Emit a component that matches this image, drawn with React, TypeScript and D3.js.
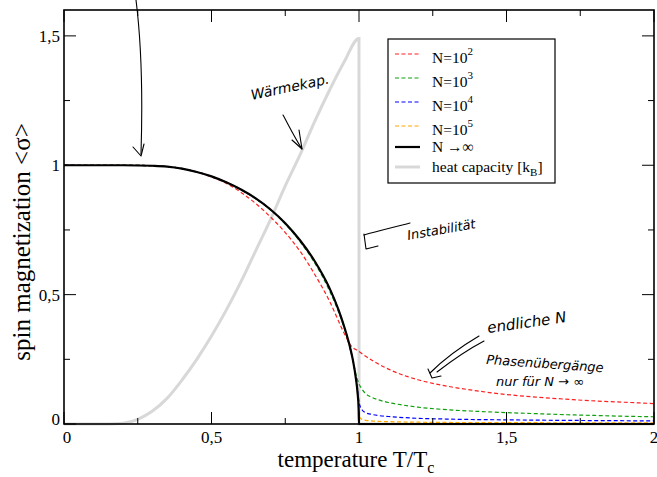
import React from "react";
import * as d3 from "d3";

// ---- data ----
const tInf = [0, 0.1, 0.2, 0.3, 0.35, 0.4, 0.45, 0.5, 0.55, 0.6, 0.65, 0.7, 0.75, 0.8, 0.85, 0.9, 0.93, 0.95, 0.97, 0.98, 0.99, 0.995, 0.999, 1.0, 1.5, 2.0];
const mInf = [1, 1, 1, 0.998, 0.995, 0.987, 0.974, 0.957, 0.934, 0.906, 0.872, 0.829, 0.776, 0.71, 0.629, 0.525, 0.443, 0.376, 0.295, 0.243, 0.172, 0.122, 0.055, 0, 0, 0];

const tN2 = [0, 0.2, 0.3, 0.4, 0.5, 0.55, 0.6, 0.65, 0.7, 0.75, 0.8, 0.85, 0.9, 0.95, 0.97, 1.0, 1.05, 1.1, 1.2, 1.3, 1.4, 1.5, 1.6, 1.7, 1.8, 1.9, 2.0];
const mN2 = [1, 1, 0.998, 0.987, 0.955, 0.93, 0.895, 0.852, 0.8, 0.74, 0.668, 0.578, 0.475, 0.35, 0.307, 0.28, 0.242, 0.212, 0.171, 0.146, 0.128, 0.114, 0.104, 0.096, 0.089, 0.084, 0.079];

const tN3 = [0, 0.2, 0.3, 0.4, 0.5, 0.6, 0.7, 0.75, 0.8, 0.85, 0.9, 0.93, 0.95, 0.97, 0.98, 0.99, 1.0, 1.01, 1.02, 1.04, 1.07, 1.1, 1.15, 1.2, 1.3, 1.4, 1.5, 1.6, 1.7, 1.8, 1.9, 2.0];
const mN3 = [1, 1, 0.998, 0.987, 0.957, 0.905, 0.827, 0.773, 0.705, 0.622, 0.515, 0.435, 0.37, 0.29, 0.245, 0.19, 0.155, 0.135, 0.12, 0.105, 0.092, 0.083, 0.073, 0.065, 0.055, 0.049, 0.044, 0.04, 0.036, 0.033, 0.03, 0.028];

const tN4 = [0, 0.2, 0.3, 0.4, 0.5, 0.6, 0.7, 0.8, 0.85, 0.9, 0.95, 0.97, 0.98, 0.99, 0.995, 1.0, 1.005, 1.01, 1.02, 1.04, 1.07, 1.1, 1.2, 1.3, 1.5, 1.7, 2.0];
const mN4 = [1, 1, 0.998, 0.987, 0.957, 0.906, 0.829, 0.709, 0.628, 0.523, 0.374, 0.293, 0.241, 0.172, 0.13, 0.085, 0.065, 0.055, 0.045, 0.038, 0.032, 0.029, 0.022, 0.019, 0.016, 0.014, 0.012];

const tN5 = [0, 0.2, 0.3, 0.4, 0.5, 0.6, 0.7, 0.8, 0.85, 0.9, 0.95, 0.97, 0.98, 0.99, 0.995, 0.999, 1.0, 1.005, 1.01, 1.03, 1.07, 1.1, 1.3, 1.6, 2.0];
const mN5 = [1, 1, 0.998, 0.987, 0.957, 0.906, 0.829, 0.71, 0.629, 0.525, 0.376, 0.295, 0.243, 0.172, 0.122, 0.06, 0.035, 0.022, 0.018, 0.013, 0.01, 0.009, 0.006, 0.005, 0.004];

const tC = [0, 0.15, 0.2, 0.25, 0.3, 0.35, 0.4, 0.45, 0.5, 0.55, 0.6, 0.65, 0.7, 0.75, 0.8, 0.85, 0.9, 0.95, 1.0, 1.0001, 2.0];
const cHeat = [0, 0, 0.003, 0.018, 0.05, 0.1, 0.17, 0.25, 0.34, 0.44, 0.55, 0.67, 0.79, 0.92, 1.04, 1.17, 1.29, 1.4, 1.49, 0, 0];

const xTicksMajor = [0, 0.5, 1, 1.5, 2];
const xTickLabels = ["0", "0,5", "1", "1,5", "2"];
const yTicksMajor = [0, 0.5, 1, 1.5];
const yTickLabels = ["0", "0,5", "1", "1,5"];
const minorTicks = [0.25, 0.75, 1.25, 1.75];

const legendItems = [
  { label: "N=10", sup: "2", color: "#ff2020", dash: "4,2.5", width: 1.2 },
  { label: "N=10", sup: "3", color: "#10a010", dash: "4,2.5", width: 1.2 },
  { label: "N=10", sup: "4", color: "#0000ff", dash: "4,2.5", width: 1.2 },
  { label: "N=10", sup: "5", color: "#ffa500", dash: "4,2.5", width: 1.2 },
  { label: "N  \u2192\u221e", sup: "", color: "#000000", dash: "", width: 2.2 },
  { label: "heat capacity [k", sup: "", sub: "B", tail: "]", color: "#d8d8d8", dash: "", width: 3 },
];

const W = 657;
const H = 477;
const L = 64, R = 654, T = 10, B = 424;

export default function App() {
  const x = d3.scaleLinear().domain([0, 2]).range([L, R]);
  const y = d3.scaleLinear().domain([0, 1.6]).range([B, T]);
  const line = d3
    .line<[number, number]>()
    .x((d) => x(d[0]))
    .y((d) => y(d[1]))
    .curve(d3.curveMonotoneX);
  const mk = (ts: number[], vs: number[]) => ts.map((t, i) => [t, vs[i]] as [number, number]);

  const serif = "'Liberation Serif', 'Times New Roman', serif";
  const hand = "'DejaVu Sans', sans-serif";

  const series = [
    { d: mk(tN2, mN2), ...legendItems[0] },
    { d: mk(tN3, mN3), ...legendItems[1] },
    { d: mk(tN4, mN4), ...legendItems[2] },
    { d: mk(tN5, mN5), ...legendItems[3] },
  ];

  const ticks: JSX.Element[] = [];
  xTicksMajor.forEach((v, i) => {
    ticks.push(<line key={"xb" + i} x1={x(v)} x2={x(v)} y1={B} y2={B - 12} stroke="#000" strokeWidth={1} />);
    ticks.push(<line key={"xt" + i} x1={x(v)} x2={x(v)} y1={T} y2={T + 12} stroke="#000" strokeWidth={1} />);
  });
  minorTicks.forEach((v, i) => {
    ticks.push(<line key={"xbm" + i} x1={x(v)} x2={x(v)} y1={B} y2={B - 6} stroke="#000" strokeWidth={1} />);
    ticks.push(<line key={"xtm" + i} x1={x(v)} x2={x(v)} y1={T} y2={T + 6} stroke="#000" strokeWidth={1} />);
  });
  yTicksMajor.forEach((v, i) => {
    ticks.push(<line key={"yl" + i} x1={L} x2={L + 12} y1={y(v)} y2={y(v)} stroke="#000" strokeWidth={1} />);
    ticks.push(<line key={"yr" + i} x1={R} x2={R - 12} y1={y(v)} y2={y(v)} stroke="#000" strokeWidth={1} />);
  });
  [0.25, 0.75, 1.25].forEach((v, i) => {
    ticks.push(<line key={"ylm" + i} x1={L} x2={L + 6} y1={y(v)} y2={y(v)} stroke="#000" strokeWidth={1} />);
    ticks.push(<line key={"yrm" + i} x1={R} x2={R - 6} y1={y(v)} y2={y(v)} stroke="#000" strokeWidth={1} />);
  });

  const lgX = 388, lgY = 39, lgW = 167, lgH = 144;
  const rowY = [54, 78, 102, 126, 147, 167];

  return (
    <svg width={W} height={H} style={{ position: "absolute", left: 0, top: 0, background: "#fff" }}>
      <rect x={0} y={0} width={W} height={H} fill="#fff" />
      {/* heat capacity */}
      <path d={line(mk(tC, cHeat)) || ""} fill="none" stroke="#d8d8d8" strokeWidth={3} />
      {series.map((s, i) => (
        <path key={i} d={line(s.d) || ""} fill="none" stroke={s.color} strokeWidth={s.width} strokeDasharray={s.dash} />
      ))}
      <path d={line(mk(tInf, mInf)) || ""} fill="none" stroke="#000" strokeWidth={2.2} />

      {ticks}
      <rect x={L} y={T} width={R - L} height={B - T} fill="none" stroke="#000" strokeWidth={1.6} />

      {xTicksMajor.map((v, i) => (
        <text key={"xl" + i} x={x(v) + (i === 0 ? 3 : 0)} y={443} textAnchor="middle" fontFamily={serif} fontSize={17}>
          {xTickLabels[i]}
        </text>
      ))}
      {yTicksMajor.map((v, i) => (
        <text key={"yl" + i} x={60} y={y(v) + (i === 0 ? 1 : 6)} textAnchor="end" fontFamily={serif} fontSize={17}>
          {yTickLabels[i]}
        </text>
      ))}

      <text x={356} y={467} textAnchor="middle" fontFamily={serif} fontSize={23}>
        temperature T/T<tspan fontSize={16} dy={6}>c</tspan>
      </text>
      <text transform={`translate(30,${242}) rotate(-90)`} textAnchor="middle" fontFamily={serif} fontSize={25}>
        spin magnetization &lt;σ&gt;
      </text>

      {/* legend */}
      <rect x={lgX} y={lgY} width={lgW} height={lgH} fill="#fff" stroke="#000" strokeWidth={1.2} />
      {legendItems.map((it, i) => (
        <g key={"lg" + i}>
          <line x1={395} x2={420} y1={rowY[i]} y2={rowY[i]} stroke={it.color} strokeWidth={it.width} strokeDasharray={it.dash} />
          <text x={432} y={rowY[i] + (i < 4 ? 9 : 5)} fontFamily={serif} fontSize={15.5}>
            {it.label}
            {it.sup ? <tspan fontSize={11} dy={-8}>{it.sup}</tspan> : null}
            {it.sub ? <tspan fontSize={11} dy={4}>{it.sub}</tspan> : null}
            {it.tail ? <tspan dy={-4}>{it.tail}</tspan> : null}
          </text>
        </g>
      ))}

      {/* handwritten annotations */}
      <g fill="none" stroke="#000" strokeWidth={1.1} strokeLinecap="round" strokeLinejoin="round">
        <path d="M136,0 C141,40 143,90 141,154" />
        <path d="M133,147 L141,156 L144,144" />
        <path d="M283,115 C289,126 295,138 302,149" />
        <path d="M292,140 L302,149 L299,130" />
        <path d="M410,223 C395,227 378,231 364,235" />
        <path d="M364,234 L366,249 L378,246" />
        <path d="M479,336 C462,346 445,358 430,373" />
        <path d="M484,341 C465,351 450,362 437,372" />
        <path d="M428,369 L432,378 L441,376" />
      </g>
      <g fontFamily={hand} fontStyle="italic" fill="#000">
        <text x={252} y={100} fontSize={14} transform="rotate(-12,252,100)">Wärmekap.</text>
        <text x={408} y={240} fontSize={13} transform="rotate(-10,408,240)">Instabilität</text>
        <text x={488} y={333} fontSize={15} transform="rotate(-8,488,333)">endliche N</text>
        <text x={486} y={364} fontSize={13} transform="rotate(4,486,364)">Phasenübergänge</text>
        <text x={496} y={386} fontSize={13}>nur für N → ∞</text>
      </g>
    </svg>
  );
}
